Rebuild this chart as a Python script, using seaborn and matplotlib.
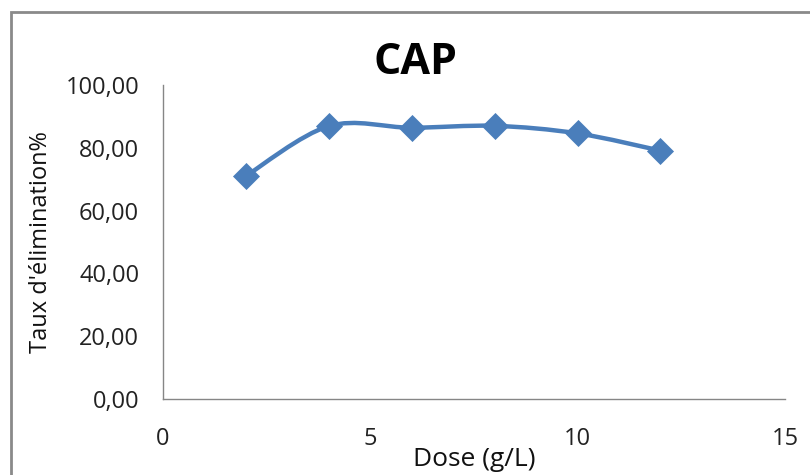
import numpy as np
import matplotlib
matplotlib.use("Agg")
import matplotlib.pyplot as plt
from matplotlib.path import Path
from matplotlib.patches import PathPatch, Rectangle
import seaborn as sns
import pandas as pd

# Removal rate as a function of adsorbent dose
dose = [2, 4, 6, 8, 10, 12]
taux = [71.0, 86.9, 86.4, 87.0, 84.6, 79.1]
y_ticks = [0, 20, 40, 60, 80, 100]
x_ticks = [0, 5, 10, 15]

sns.set_theme(style="white")
plt.rcParams["font.family"] = ["Open Sans", "DejaVu Sans"]

blue = "#4A7EBB"
grey = "#868686"

fig = plt.figure(figsize=(8.10, 4.75), dpi=100)
ax = fig.add_axes([0.201, 0.16, 0.768, 0.661])

df = pd.DataFrame({"Dose": dose, "Taux": taux})

# Smoothed connecting curve (cubic Bezier segments, Catmull-Rom style tangents)
pts = np.column_stack([df["Dose"].to_numpy(float), df["Taux"].to_numpy(float)])
n = len(pts)
verts = [tuple(pts[0])]
codes = [Path.MOVETO]
for i in range(n - 1):
    p0 = pts[i - 1] if i > 0 else pts[i]
    p1 = pts[i]
    p2 = pts[i + 1]
    p3 = pts[i + 2] if i + 2 < n else pts[i + 1]
    c1 = p1 + (p2 - p0) / 6.0
    c2 = p2 - (p3 - p1) / 6.0
    verts += [tuple(c1), tuple(c2), tuple(p2)]
    codes += [Path.CURVE4] * 3
ax.add_patch(PathPatch(Path(verts, codes), facecolor="none", edgecolor=blue,
                       linewidth=3.2, capstyle="round", joinstyle="round", zorder=2))

sns.scatterplot(data=df, x="Dose", y="Taux", marker="D", s=190, color=blue,
                edgecolor=blue, linewidth=0, ax=ax, zorder=3)

ax.set_xlim(0, 15)
ax.set_ylim(0, 100)
ax.set_xticks(x_ticks)
ax.set_xticklabels([str(t) for t in x_ticks])
ax.set_yticks(y_ticks)
ax.set_yticklabels([f"{t:.2f}".replace(".", ",") for t in y_ticks])
ax.tick_params(axis="both", length=0, labelsize=17, colors="#222222")
ax.tick_params(axis="x", pad=20)
ax.tick_params(axis="y", pad=17)

for side in ["top", "right"]:
    ax.spines[side].set_visible(False)
for side in ["left", "bottom"]:
    ax.spines[side].set_color(grey)
    ax.spines[side].set_linewidth(1.0)

ax.set_xlabel("Dose (g/L)", fontsize=19, color="#111111", labelpad=-3)
ax.set_ylabel("Taux d'élimination%", fontsize=17, color="#111111", labelpad=9)

fig.text(415 / 810, 1 - 62 / 475, "CAP", ha="center", va="center",
         fontsize=31, fontweight="bold", color="#000000")

# Chart area frame
fig.patches.append(Rectangle((11 / 810, -0.1), 1.2, 1 - 12 / 475 + 0.1,
                             transform=fig.transFigure, fill=False,
                             edgecolor="#8a8a8a", linewidth=2.0))

fig.savefig("out.png", dpi=100)
